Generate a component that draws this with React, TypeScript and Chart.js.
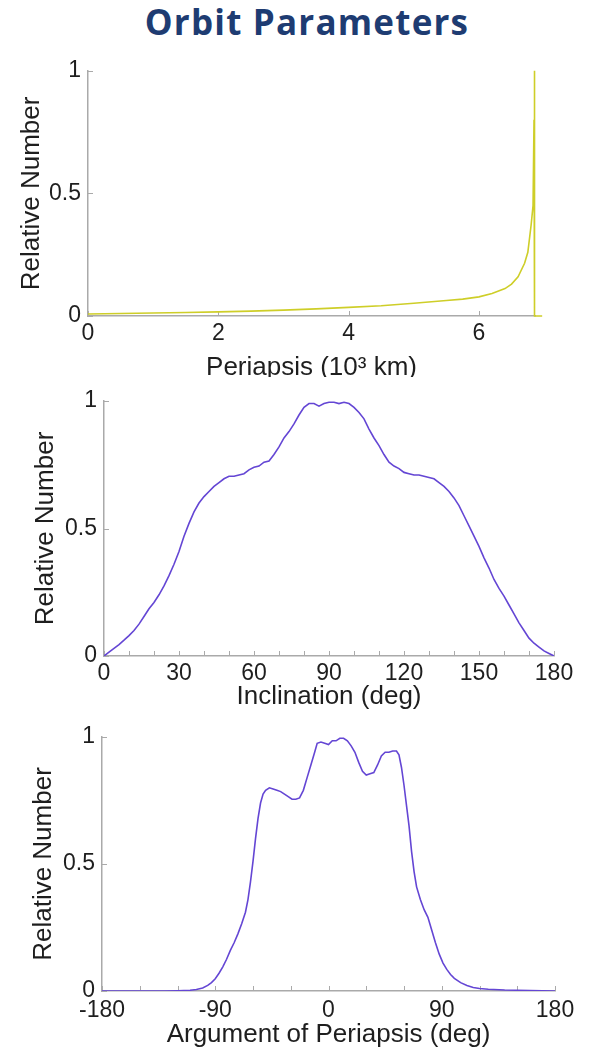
import React, { useEffect, useRef } from "react";
import { Chart, registerables } from "chart.js";

Chart.register(...registerables);

// ---------- Data ----------
const PERI_X = [0, 0.5, 1, 1.5, 2, 2.5, 3, 3.5, 4, 4.5, 5, 5.5, 5.75, 6, 6.2, 6.4, 6.5, 6.6, 6.7, 6.75, 6.8, 6.83, 6.845, 6.85, 6.855, 6.97];
const PERI_Y = [0.008, 0.010, 0.012, 0.014, 0.017, 0.020, 0.024, 0.029, 0.035, 0.042, 0.052, 0.063, 0.069, 0.078, 0.092, 0.112, 0.13, 0.16, 0.215, 0.26, 0.37, 0.45, 0.8, 1.0, 0, 0];
const PERI_TICKS = [0, 2, 4, 6];

const INC_X = [0, 2, 4, 6, 8, 10, 12, 14, 16, 18, 20, 22, 24, 26, 28, 30, 32, 34, 36, 38, 40, 42, 44, 46, 48, 50, 52, 54, 56, 58, 60, 62, 64, 66, 68, 70, 72, 74, 76, 78, 80, 82, 84, 86, 88, 90, 92, 94, 96, 98, 100, 102, 104, 106, 108, 110, 112, 114, 116, 118, 120, 122, 124, 126, 128, 130, 132, 134, 136, 138, 140, 142, 144, 146, 148, 150, 152, 154, 156, 158, 160, 162, 164, 166, 168, 170, 172, 174, 176, 178, 180];
const INC_Y = [0, 0.015, 0.03, 0.045, 0.062, 0.08, 0.10, 0.125, 0.155, 0.185, 0.21, 0.24, 0.275, 0.315, 0.36, 0.41, 0.47, 0.52, 0.565, 0.60, 0.625, 0.645, 0.665, 0.68, 0.695, 0.705, 0.705, 0.71, 0.715, 0.73, 0.74, 0.745, 0.76, 0.765, 0.79, 0.82, 0.855, 0.88, 0.91, 0.945, 0.975, 0.99, 0.99, 0.98, 0.99, 0.995, 0.995, 0.99, 0.995, 0.99, 0.975, 0.955, 0.93, 0.89, 0.855, 0.825, 0.79, 0.76, 0.745, 0.735, 0.72, 0.715, 0.71, 0.71, 0.705, 0.70, 0.695, 0.68, 0.665, 0.645, 0.62, 0.59, 0.55, 0.51, 0.47, 0.43, 0.385, 0.345, 0.30, 0.265, 0.235, 0.20, 0.165, 0.13, 0.10, 0.07, 0.05, 0.035, 0.02, 0.01, 0];
const INC_LABELS = [0, 30, 60, 90, 120, 150, 180];

const ARG_X = [-180, -150, -130, -120, -110, -105, -100, -96, -93, -90, -87, -84, -81, -78, -75, -72, -69, -66, -64, -62, -60, -58, -56, -54, -52, -50, -47, -44, -41, -38, -35, -32, -29, -26, -23, -20, -17, -14, -11, -9, -6, -3, 0, 3, 6, 9, 12, 15, 18, 21, 24, 27, 30, 33, 36, 39, 42, 45, 48, 51, 54, 56, 58, 60, 62, 64, 66, 68, 70, 73, 76, 79, 82, 85, 88, 91, 94, 97, 100, 105, 110, 115, 120, 127, 140, 150, 160, 170, 180];
const ARG_Y = [0, 0, 0, 0.001, 0.003, 0.006, 0.012, 0.022, 0.033, 0.048, 0.07, 0.095, 0.125, 0.16, 0.19, 0.225, 0.265, 0.31, 0.36, 0.43, 0.51, 0.6, 0.68, 0.74, 0.775, 0.79, 0.8, 0.795, 0.79, 0.785, 0.775, 0.765, 0.755, 0.755, 0.76, 0.79, 0.84, 0.89, 0.94, 0.975, 0.98, 0.975, 0.97, 0.985, 0.985, 0.995, 0.995, 0.985, 0.965, 0.94, 0.9, 0.865, 0.85, 0.855, 0.86, 0.89, 0.925, 0.94, 0.94, 0.945, 0.945, 0.93, 0.88, 0.81, 0.73, 0.65, 0.55, 0.47, 0.41, 0.36, 0.32, 0.29, 0.24, 0.19, 0.145, 0.11, 0.085, 0.065, 0.05, 0.033, 0.022, 0.014, 0.01, 0.007, 0.004, 0.003, 0.002, 0.001, 0];
const ARG_LABELS = [-180, -90, 0, 90, 180];

const Y_LABEL = "Relative Number";

// ---------- Styles ----------
const FONT = "'Liberation Sans', Arial, sans-serif";
const AXIS_COLOR = "#aaaaaa";
const TEXT_COLOR = "#1e1e1e";
const YELLOW = "rgb(206,206,40)";
const PURPLE = "#6446d4";

const innerTicks = {
  id: "innerTicks",
  beforeDatasetsDraw(chart: any) {
    const { ctx, chartArea } = chart;
    const xs = chart.scales.x;
    const ys = chart.scales.y;
    ctx.save();
    ctx.strokeStyle = AXIS_COLOR;
    ctx.lineWidth = 1;
    ctx.beginPath();
    xs.ticks.forEach((t: any) => {
      const p = Math.round(xs.getPixelForValue(t.value)) + 0.5;
      ctx.moveTo(p, chartArea.bottom);
      ctx.lineTo(p, chartArea.bottom - 5);
    });
    ys.ticks.forEach((t: any) => {
      const p = Math.round(ys.getPixelForValue(t.value)) + 0.5;
      ctx.moveTo(chartArea.left, p);
      ctx.lineTo(chartArea.left + 5, p);
    });
    ctx.stroke();
    ctx.restore();
  },
};

type Spec = {
  xs: number[];
  ys: number[];
  color: string;
  xMin: number;
  xMax: number;
  step: number;
  labels: number[];
  xTitle: string;
  padTop: number;
  padRight: number;
  yWidth: number;
  xHeight: number;
  xTickPad: number;
  xTitlePB: number;
  yTitlePT: number;
  noClip?: boolean;
};

function ChartBox({ spec, top, height }: { spec: Spec; top: number; height: number }) {
  const ref = useRef<HTMLCanvasElement>(null);
  useEffect(() => {
    if (!ref.current) return;
    const s = spec;
    const chart = new Chart(ref.current, {
      type: "line",
      data: {
        datasets: [
          {
            data: s.xs.map((x, i) => ({ x, y: s.ys[i] })),
            borderColor: s.color,
            borderWidth: 1.6,
            pointRadius: 0,
            tension: 0,
            fill: false,
            clip: s.noClip ? (false as any) : undefined,
          } as any,
        ],
      },
      options: {
        animation: false,
        responsive: false,
        events: [],
        layout: { padding: { top: s.padTop, right: s.padRight, bottom: 0, left: 0 } },
        plugins: { legend: { display: false }, tooltip: { enabled: false } },
        scales: {
          x: {
            type: "linear",
            min: s.xMin,
            max: s.xMax,
            afterFit: (sc: any) => {
              sc.height = s.xHeight;
            },
            grid: { display: false, drawTicks: false },
            border: { display: true, color: AXIS_COLOR, width: 1.5 },
            ticks: {
              stepSize: s.step,
              includeBounds: false,
              autoSkip: false,
              maxRotation: 0,
              padding: s.xTickPad,
              color: TEXT_COLOR,
              font: { family: FONT, size: 23 },
              callback: (v: any) => (s.labels.includes(Number(v)) ? String(v) : ""),
            },
            title: {
              display: true,
              text: s.xTitle,
              color: TEXT_COLOR,
              font: { family: FONT, size: 26 },
              padding: { top: 0, bottom: s.xTitlePB },
            },
          },
          y: {
            min: 0,
            max: 1,
            afterFit: (sc: any) => {
              sc.width = s.yWidth;
            },
            grid: { display: false, drawTicks: false },
            border: { display: true, color: AXIS_COLOR, width: 1.5 },
            ticks: {
              stepSize: 0.5,
              padding: 7,
              color: TEXT_COLOR,
              font: { family: FONT, size: 23 },
              callback: (v: any) => String(v),
            },
            title: {
              display: true,
              text: Y_LABEL,
              color: TEXT_COLOR,
              font: { family: FONT, size: 26 },
              padding: { top: s.yTitlePT, bottom: 0 },
            },
          },
        },
      },
      plugins: [innerTicks],
    });
    return () => chart.destroy();
  }, [spec]);
  return (
    <canvas
      ref={ref}
      width={589}
      height={height}
      style={{ position: "absolute", left: 0, top, width: 589, height, display: "block" }}
    />
  );
}

const SPEC1: Spec = {
  xs: PERI_X, ys: PERI_Y, color: YELLOW, xMin: 0, xMax: 6.86, step: 2, labels: PERI_TICKS,
  xTitle: "Periapsis (10³ km)", padTop: 19, padRight: 54, yWidth: 88, xHeight: 61,
  xTickPad: 4, xTitlePB: -6, yTitlePT: 16, noClip: true,
};
const SPEC2: Spec = {
  xs: INC_X, ys: INC_Y, color: PURPLE, xMin: 0, xMax: 180, step: 10, labels: INC_LABELS,
  xTitle: "Inclination (deg)", padTop: 24, padRight: 35, yWidth: 104, xHeight: 54,
  xTickPad: 4, xTitlePB: -2, yTitlePT: 30,
};
const SPEC3: Spec = {
  xs: ARG_X, ys: ARG_Y, color: PURPLE, xMin: -180, xMax: 180, step: 30, labels: ARG_LABELS,
  xTitle: "Argument of Periapsis (deg)", padTop: 27, padRight: 34, yWidth: 102, xHeight: 59,
  xTickPad: 6, xTitlePB: 0, yTitlePT: 28,
};

export default function App() {
  return (
    <div style={{ position: "absolute", left: 0, top: 0, width: 589, height: 1050, background: "#fff", overflow: "hidden" }}>
      <div
        style={{
          position: "absolute",
          left: 0,
          top: 4,
          width: 614,
          textAlign: "center",
          fontFamily: "'Open Sans', sans-serif",
          fontWeight: 700,
          fontSize: 35,
          lineHeight: "35px",
          letterSpacing: 1.2,
          color: "#1e3c72",
          whiteSpace: "nowrap",
        }}
      >
        Orbit Parameters
      </div>
      <ChartBox spec={SPEC1} top={50} height={327} />
      <ChartBox spec={SPEC2} top={377} height={333} />
      <ChartBox spec={SPEC3} top={710} height={340} />
    </div>
  );
}
